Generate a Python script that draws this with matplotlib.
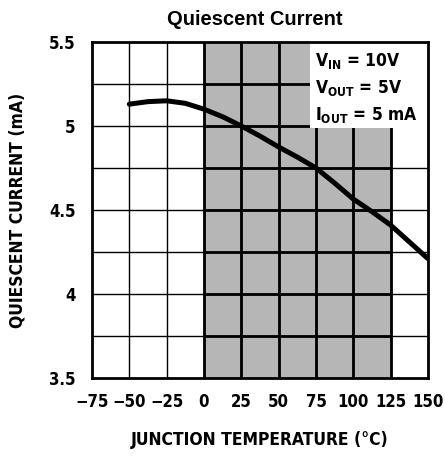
import matplotlib
matplotlib.use('Agg')
import matplotlib.pyplot as plt
import numpy as np

# junction temperature (C) vs quiescent current (mA)
temp = [-50, -37.5, -25, -12.5, 0, 12.5, 25, 37.5, 50, 62.5, 75, 87.5, 100, 112.5, 125, 137.5, 150]
iq = [5.13, 5.145, 5.15, 5.135, 5.10, 5.055, 5.0, 4.94, 4.875, 4.815, 4.75, 4.66, 4.565, 4.49, 4.41, 4.31, 4.21]

xticks = [-75, -50, -25, 0, 25, 50, 75, 100, 125, 150]
yticks = [3.5, 4, 4.5, 5, 5.5]
ygrid = [3.75, 4, 4.25, 4.5, 4.75, 5, 5.25]
cond_lines = [r'$\mathbf{V_{IN}}$ = 10V', r'$\mathbf{V_{OUT}}$ = 5V', r'$\mathbf{I_{OUT}}$ = 5 mA']

plt.rcParams['font.family'] = ['DejaVu Sans']
plt.rcParams['font.stretch'] = 'condensed'
plt.rcParams['font.weight'] = 'bold'
plt.rcParams['mathtext.fontset'] = 'custom'
plt.rcParams['mathtext.bf'] = 'DejaVu Sans:bold:stretch=condensed'
plt.rcParams['mathtext.rm'] = 'DejaVu Sans:bold:stretch=condensed'

fig = plt.figure(figsize=(4.45, 4.57), dpi=100)
ax = fig.add_axes([0.2067, 0.1729, 0.7551, 0.7352])
ax.set_xlim(-75, 150)
ax.set_ylim(3.5, 5.5)

# shaded operating range
ax.axvspan(0, 125, color='#b6b6b6', zorder=0, lw=0)

# grid: thin in white area, heavy in shaded area
for x in xticks[1:-1]:
    ax.axvline(x, color='black', lw=1.0, zorder=1)
for y in ygrid:
    ax.axhline(y, color='black', lw=1.0, zorder=1)
for x in xticks[3:-1]:
    ax.axvline(x, color='black', lw=2.0, zorder=1)
ax.hlines(ygrid, 0, 125, color='black', lw=2.0, zorder=1)

# white box behind conditions
ax.fill_between([71, 150], 4.99, 5.5, color='white', zorder=2, lw=0)

ax.plot(temp, iq, color='black', lw=3.6, solid_capstyle='round', zorder=3)

for i, s in enumerate(cond_lines):
    ax.text(74, 5.385 - i * 0.16, s, fontsize=12.5, fontweight='bold', va='center', ha='left', zorder=4)

ax.set_xticks(xticks)
ax.set_yticks(yticks)
ax.set_yticklabels(['3.5', '4', '4.5', '5', '5.5'])
ax.set_xticklabels(['\u221275', '\u221250', '\u221225', '0', '25', '50', '75', '100', '125', '150'])
ax.tick_params(length=0, labelsize=12, pad=11)
ax.tick_params(axis='y', pad=12)
for lab in ax.get_xticklabels() + ax.get_yticklabels():
    lab.set_fontweight('bold')
for sp in ax.spines.values():
    sp.set_linewidth(2)
    sp.set_zorder(5)

ax.set_xlabel('JUNCTION TEMPERATURE (°C)', fontsize=12.5, fontweight='bold', labelpad=14)
ax.set_ylabel('QUIESCENT CURRENT (mA)', fontsize=12.5, fontweight='bold', labelpad=16)

fig.text(0.573, 0.958, 'Quiescent Current', fontsize=14.5, fontweight='bold', ha='center', va='center',
         family=['Liberation Sans', 'DejaVu Sans'], stretch='normal')

fig.savefig('out.png', dpi=100)
